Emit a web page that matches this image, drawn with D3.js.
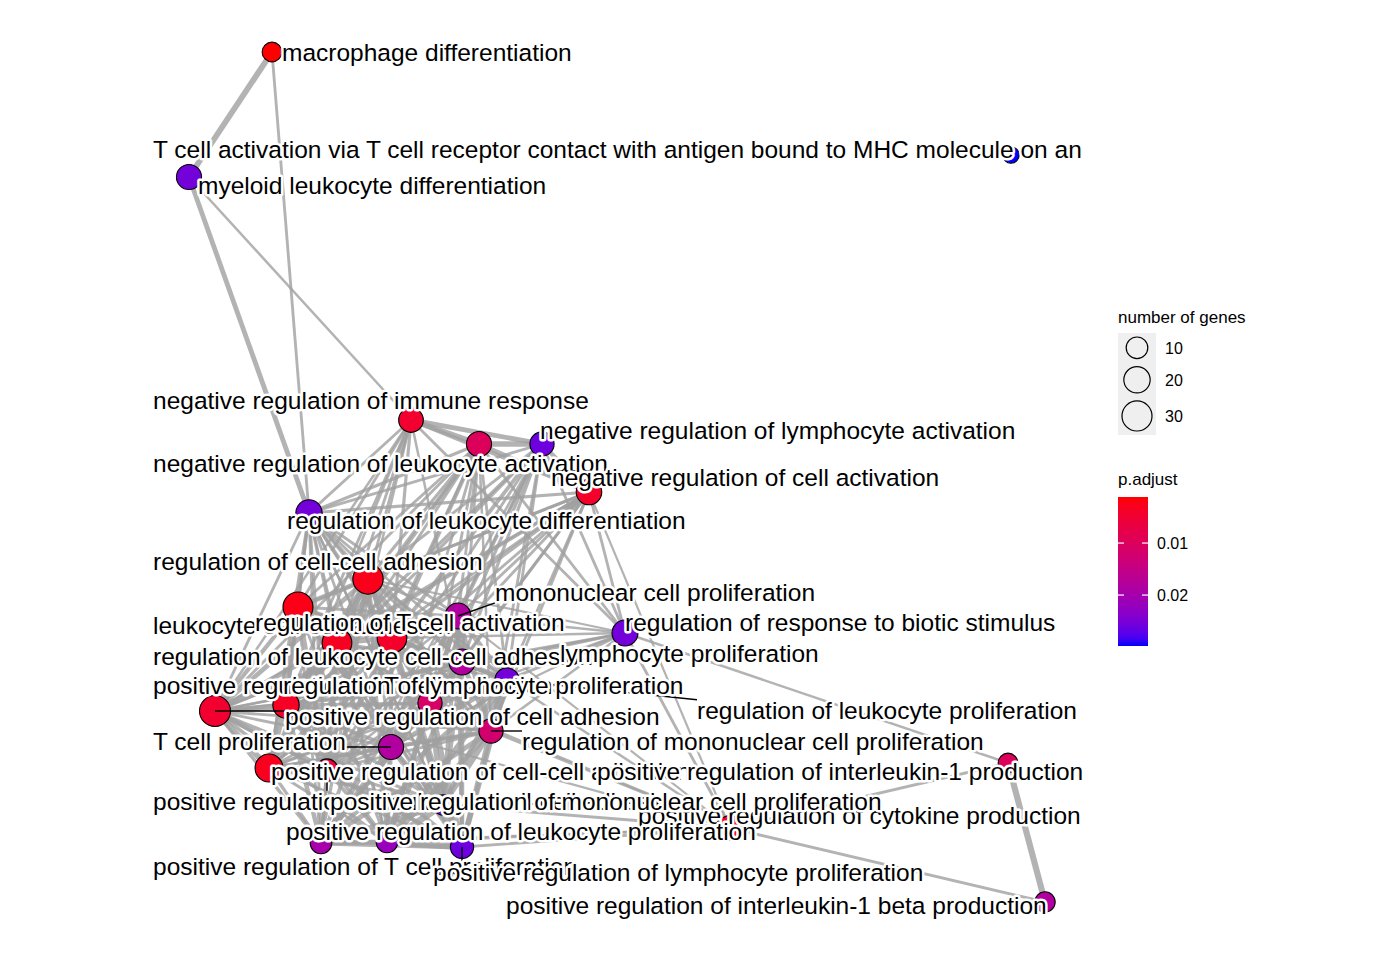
<!DOCTYPE html>
<html>
<head>
<meta charset="utf-8">
<script src="https://cdn.jsdelivr.net/npm/d3@7"></script>
<style>
  body { margin: 0; background: #fff; }
  text { font-family: "Liberation Sans", Arial, Helvetica, sans-serif; fill: #000; }
</style>
</head>
<body>
<div id="chart"></div>
<script>
// ENRICHMENT MAP DATA (GO terms, gene counts, adjusted p values, layout)
var terms = [
  "macrophage differentiation",
  "T cell activation via T cell receptor contact with antigen bound to MHC molecule on an",
  "myeloid leukocyte differentiation",
  "negative regulation of immune response",
  "negative regulation of leukocyte activation",
  "negative regulation of lymphocyte activation",
  "negative regulation of cell activation",
  "regulation of leukocyte differentiation",
  "regulation of cell-cell adhesion",
  "leukocyte cell-cell adhesion",
  "regulation of leukocyte cell-cell adhesion",
  "regulation of T cell activation",
  "mononuclear cell proliferation",
  "lymphocyte proliferation",
  "regulation of leukocyte proliferation",
  "regulation of response to biotic stimulus",
  "positive regulation of cell adhesion",
  "positive regulation of T cell activation",
  "regulation of lymphocyte proliferation",
  "regulation of mononuclear cell proliferation",
  "T cell proliferation",
  "positive regulation of cell-cell adhesion",
  "positive regulation of leukocyte cell-cell adhesion",
  "positive regulation of mononuclear cell proliferation",
  "positive regulation of T cell proliferation",
  "positive regulation of leukocyte proliferation",
  "positive regulation of lymphocyte proliferation",
  "positive regulation of cytokine production",
  "positive regulation of interleukin-1 production",
  "positive regulation of interleukin-1 beta production"
];

var geneCount = [7, 3, 17, 16, 17, 15, 18, 20, 31, 30, 29, 29, 19, 19, 15, 19, 33, 20, 15, 15, 17, 24, 11, 8, 10, 10, 13, 17, 7, 8];

var pAdjust = [0.00114, 0.0298, 0.0255, 0.0046, 0.0097, 0.026, 0.004, 0.0255, 0.0026, 0.0023,
               0.0032, 0.004, 0.0183, 0.0183, 0.0255, 0.0255, 0.0046, 0.0035, 0.0112, 0.012,
               0.0183, 0.0029, 0.0063, 0.0255, 0.0198, 0.0218, 0.026, 0.0035, 0.0097, 0.0183];

// graph layout coordinates of each term
var layoutX = [272, 1011, 189, 411, 479, 542, 589, 309, 368, 298, 337, 392, 458, 462, 507, 625, 215, 286, 430, 491,
               391, 269, 327, 443, 321, 387, 462, 730, 1008, 1045];
var layoutY = [52, 155, 177, 420, 444, 444, 492, 513, 579, 607, 643, 638, 616, 662, 680, 633, 711, 705, 703, 731,
               747, 768, 770, 805, 843, 842, 847, 828, 763, 902];

// repelled label anchors (left edge, vertical centre) in layout coordinates
var labelX = [282, 153, 198, 153, 153, 540, 551, 287, 153, 153, 153, 255, 495, 560, 697, 625, 285, 153, 283, 522,
              153, 271, 153, 330, 153, 286, 433, 638, 597, 506];
var labelY = [52, 149, 185, 400, 463, 430, 477, 520, 561, 625, 656, 622, 592, 653, 710, 622, 716, 685, 685, 741,
              741, 771, 801, 801, 866, 831, 872, 815, 771, 905];

// terms whose label is joined to its node by a segment
var leaderTerms = [12, 14, 16, 19, 20, 22, 26];

// similarity edges: [term a, term b, similarity]
var edges = [
  [0,2,.75],[0,7,.3],[2,7,.6],[2,3,.25],
  [3,4,.7],[3,5,.6],[3,6,.5],[3,7,.3],[3,8,.3],[3,9,.3],[3,10,.3],[3,11,.35],[3,15,.3],[3,16,.25],[3,17,.3],[3,21,.25],[3,22,.25],[3,13,.25],
  [4,5,.7],[4,6,.55],[4,7,.35],[4,8,.35],[4,9,.3],[4,10,.4],[4,11,.45],[4,12,.3],[4,13,.3],[4,14,.3],[4,15,.3],[4,16,.3],[4,17,.35],[4,18,.3],[4,19,.25],[4,20,.3],[4,21,.3],[4,22,.35],
  [5,6,.55],[5,7,.3],[5,8,.3],[5,10,.35],[5,11,.45],[5,12,.35],[5,13,.35],[5,14,.3],[5,15,.3],[5,17,.35],[5,18,.35],[5,19,.3],[5,20,.3],[5,22,.3],[5,24,.25],
  [6,7,.35],[6,8,.35],[6,9,.3],[6,10,.35],[6,11,.4],[6,12,.3],[6,13,.3],[6,14,.3],[6,15,.3],[6,16,.3],[6,17,.3],[6,18,.3],[6,19,.3],[6,21,.3],[6,22,.3],[6,27,.2],
  [7,8,.35],[7,9,.3],[7,10,.35],[7,11,.4],[7,12,.3],[7,13,.3],[7,14,.3],[7,16,.3],[7,17,.35],[7,18,.3],[7,19,.3],[7,20,.3],[7,21,.3],[7,22,.35],[7,23,.25],[7,24,.3],[7,25,.25],[7,26,.25],
  [8,9,.6],[8,10,.7],[8,11,.5],[8,12,.3],[8,13,.3],[8,14,.35],[8,15,.2],[8,16,.6],[8,17,.5],[8,18,.3],[8,19,.3],[8,20,.3],[8,21,.7],[8,22,.6],[8,23,.3],[8,24,.35],[8,25,.35],[8,26,.3],
  [9,10,.65],[9,11,.5],[9,12,.3],[9,13,.3],[9,14,.3],[9,16,.5],[9,17,.5],[9,18,.3],[9,20,.3],[9,21,.55],[9,22,.6],[9,23,.25],[9,24,.3],[9,25,.3],[9,26,.3],
  [10,11,.6],[10,12,.3],[10,13,.3],[10,14,.35],[10,16,.55],[10,17,.6],[10,18,.35],[10,19,.3],[10,20,.35],[10,21,.65],[10,22,.7],[10,23,.3],[10,24,.35],[10,25,.35],[10,26,.35],
  [11,12,.35],[11,13,.35],[11,14,.4],[11,15,.25],[11,16,.45],[11,17,.7],[11,18,.4],[11,19,.4],[11,20,.4],[11,21,.5],[11,22,.55],[11,23,.35],[11,24,.45],[11,25,.4],[11,26,.4],
  [12,13,.8],[12,14,.6],[12,15,.25],[12,16,.25],[12,17,.3],[12,18,.6],[12,19,.65],[12,20,.7],[12,21,.25],[12,22,.25],[12,23,.5],[12,24,.5],[12,25,.5],[12,26,.5],[12,27,.2],
  [13,14,.6],[13,15,.25],[13,16,.25],[13,17,.3],[13,18,.65],[13,19,.6],[13,20,.75],[13,21,.25],[13,22,.25],[13,23,.5],[13,24,.5],[13,25,.5],[13,26,.55],
  [14,15,.3],[14,16,.3],[14,17,.3],[14,18,.8],[14,19,.8],[14,20,.5],[14,21,.3],[14,22,.3],[14,23,.65],[14,24,.55],[14,25,.7],[14,26,.65],[14,27,.25],
  [15,16,.25],[15,17,.25],[15,18,.25],[15,19,.25],[15,20,.2],[15,27,.3],[15,28,.25],
  [16,17,.5],[16,18,.3],[16,19,.3],[16,20,.3],[16,21,.75],[16,22,.65],[16,23,.35],[16,24,.4],[16,25,.4],[16,26,.35],
  [17,18,.35],[17,19,.35],[17,20,.45],[17,21,.55],[17,22,.65],[17,23,.4],[17,24,.55],[17,25,.45],[17,26,.45],[17,27,.2],
  [18,19,.85],[18,20,.55],[18,21,.3],[18,22,.3],[18,23,.7],[18,24,.6],[18,25,.7],[18,26,.75],[18,27,.25],
  [19,20,.5],[19,21,.3],[19,22,.3],[19,23,.75],[19,24,.6],[19,25,.7],[19,26,.7],[19,27,.25],
  [20,21,.3],[20,22,.3],[20,23,.5],[20,24,.7],[20,25,.5],[20,26,.55],
  [21,22,.7],[21,23,.3],[21,24,.35],[21,25,.35],[21,26,.3],
  [22,23,.35],[22,24,.4],[22,25,.4],[22,26,.35],
  [23,24,.65],[23,25,.85],[23,26,.85],[23,27,.3],
  [24,25,.65],[24,26,.65],[24,27,.2],
  [25,26,.85],[25,27,.3],
  [26,27,.3],
  [27,28,.3],[27,29,.3],
  [28,29,.8]
];

var sizeBreaks = [10, 20, 30];
var colorBreaks = [0.01, 0.02];

// SVG SETUP
var width = 1400, height = 960;
var svg = d3.select("#chart").append("svg")
    .attr("width", width)
    .attr("height", height);
svg.append("rect").attr("width", width).attr("height", height).attr("fill", "white");

// SCALES
var x = d3.scaleLinear().domain([150, 1090]).range([150, 1090]);
var y = d3.scaleLinear().domain([40, 910]).range([40, 910]);
var size = d3.scaleSqrt().domain(d3.extent(geneCount)).range([8.2, 15.5]);
var color = d3.scaleLinear().domain(d3.extent(pAdjust)).range(["#ff0000", "#0000ff"])
    .interpolate(d3.interpolateLab);
var edgeWidth = d3.scaleLinear().domain(d3.extent(edges, function(e) { return e[2]; })).range([2.2, 6.5]);

var nodes = terms.map(function(t, i) { return i; });

// EDGES
svg.append("g").selectAll("line")
    .data(edges)
    .enter()
    .append("line")
        .attr("x1", function(e) { return x(layoutX[e[0]]); })
        .attr("y1", function(e) { return y(layoutY[e[0]]); })
        .attr("x2", function(e) { return x(layoutX[e[1]]); })
        .attr("y2", function(e) { return y(layoutY[e[1]]); })
        .attr("stroke", "#a0a0a0")
        .attr("stroke-opacity", 0.8)
        .attr("stroke-width", function(e) { return edgeWidth(e[2]); });

// NODES
svg.append("g").selectAll("circle")
    .data(nodes)
    .enter()
    .append("circle")
        .attr("cx", function(i) { return x(layoutX[i]); })
        .attr("cy", function(i) { return y(layoutY[i]); })
        .attr("r", function(i) { return size(geneCount[i]); })
        .attr("fill", function(i) { return color(pAdjust[i]); })
        .attr("stroke", "black")
        .attr("stroke-width", 1.1);

// LABELS (segments group sits under the text)
var segG = svg.append("g");
var labG = svg.append("g");
var fontSize = 24.5;

// cytokine label is drawn first so the others overlap it
var labelOrder = [27].concat(nodes.filter(function(i) { return i !== 27; }));

var labels = labG.selectAll("text")
    .data(labelOrder)
    .enter()
    .append("text")
        .attr("x", function(i) { return x(labelX[i]); })
        .attr("y", function(i) { return y(labelY[i]) + fontSize * 0.36; })
        .style("font-size", fontSize + "px")
        .attr("stroke", "white")
        .attr("stroke-width", 5)
        .attr("stroke-linejoin", "round")
        .attr("paint-order", "stroke")
        .text(function(i) { return terms[i]; });

var boxes = {};
labels.each(function(i) { boxes[i] = this.getBBox(); });

segG.selectAll("line")
    .data(leaderTerms)
    .enter()
    .append("line")
        .attr("x1", function(i) { return x(layoutX[i]); })
        .attr("y1", function(i) { return y(layoutY[i]); })
        .attr("x2", function(i) {
            var b = boxes[i];
            return Math.max(b.x, Math.min(b.x + b.width, x(layoutX[i])));
        })
        .attr("y2", function(i) {
            var b = boxes[i];
            return Math.max(b.y + 3, Math.min(b.y + b.height - 3, y(layoutY[i])));
        })
        .attr("stroke", "black")
        .attr("stroke-width", 1.4);

// SIZE LEGEND
var legX = 1118;
svg.append("text").attr("x", legX).attr("y", 323).style("font-size", "17px").text("number of genes");

var keyH = sizeBreaks.map(function(v) { return 2 * size(v) + 8; });
var keyTop = 333;
svg.append("rect")
    .attr("x", legX).attr("y", keyTop)
    .attr("width", 38).attr("height", d3.sum(keyH))
    .attr("fill", "#efefef");

var acc = keyTop;
sizeBreaks.forEach(function(v, k) {
    var cy = acc + keyH[k] / 2;
    acc += keyH[k];
    svg.append("circle")
        .attr("cx", legX + 19).attr("cy", cy)
        .attr("r", size(v))
        .attr("fill", "none")
        .attr("stroke", "black")
        .attr("stroke-width", 1.2);
    svg.append("text")
        .attr("x", 1165).attr("y", cy + 6)
        .style("font-size", "16px")
        .text(v);
});

// COLOUR LEGEND
svg.append("text").attr("x", legX).attr("y", 485).style("font-size", "17px").text("p.adjust");

var pExt = d3.extent(pAdjust);
var barTop = 497, barH = 149, barW = 30;
var barY = d3.scaleLinear().domain(pExt).range([barTop, barTop + barH]);

var grad = svg.append("defs").append("linearGradient")
    .attr("id", "pgrad")
    .attr("x1", 0).attr("y1", 0).attr("x2", 0).attr("y2", 1);
d3.range(0, 1.0001, 0.05).forEach(function(t) {
    grad.append("stop")
        .attr("offset", t)
        .attr("stop-color", color(pExt[0] + t * (pExt[1] - pExt[0])));
});
svg.append("rect")
    .attr("x", legX).attr("y", barTop)
    .attr("width", barW).attr("height", barH)
    .attr("fill", "url(#pgrad)");

colorBreaks.forEach(function(v) {
    var ty = barY(v);
    svg.append("line").attr("x1", legX).attr("x2", legX + 6).attr("y1", ty).attr("y2", ty)
        .attr("stroke", "white").attr("stroke-width", 1.2);
    svg.append("line").attr("x1", legX + barW - 6).attr("x2", legX + barW).attr("y1", ty).attr("y2", ty)
        .attr("stroke", "white").attr("stroke-width", 1.2);
    svg.append("text")
        .attr("x", 1157).attr("y", ty + 6)
        .style("font-size", "16px")
        .text(v.toFixed(2));
});
</script>
</body>
</html>
